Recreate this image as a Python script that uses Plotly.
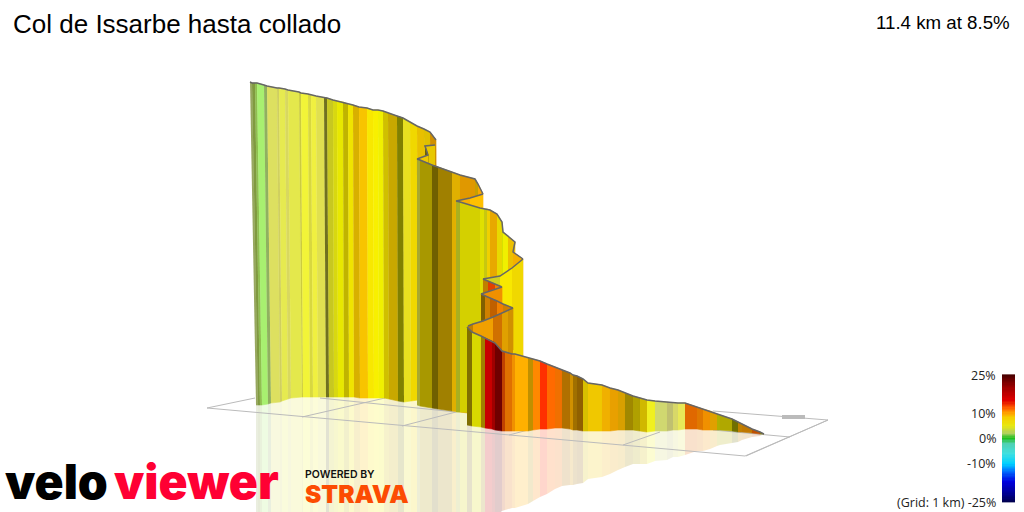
import plotly.graph_objects as go

TITLE = "Col de Issarbe hasta collado"
SUMMARY = "11.4 km at 8.5%"

# ---- wall ribbons: boundary positions, strip colours ----
a_xt = [250,252,255,257,264,267,277,279,285,288,299,301,308,311,316,324,327,333,337,343,348,353,359,367,373,378,383,388,397,403,410,417,424,430,436]
a_top = [82,83,83,83,85,86,88,88,89,90,92,93,94,95,96,97.5,98,100,101,102,104,105,107,108,110,110,111,113,116,118,122,126,129,132,140]
a_xb = [256,258,260,262,268,271,280,282,288,291,302,303,310,313,318,326,329,334,338,344,349,354,360,368,374,379,384,389,398,404,411,418,425,431,437]
a_base = [405,405,405,405,404,403,402,401,399,398,397,397,397,397,397,397,397,397,397,397,397,397,398,398,398,398,398,399,401,402,401,400,404,405,405]
a_col = ["#98a860","#809a40","#90c050","#a8f070","#90b060","#dde060","#d0d060","#e6ea50","#d8d860","#e4e84c","#cccc40","#f2f438","#d8d840","#f0f040","#e0e050","#707020","#c8c820","#d8d810","#e8e800","#c0b400","#f0e400","#d8b000","#f8c400","#f8e800","#f8f000","#f0f000","#d0c000","#c8a800","#808000","#e8e020","#f0d800","#e8c000","#e0c000","#d09000"]

a2_x = [435,425,428,417]
a2_top = [145,146,155,159]
a2_base = [175,175,175,175]
a2_col = ["#e8c800","#706000","#f0c800"]

b_x = [417,420,432,438,452,460,475,478,483]
b_top = [159,160,165,167,172,175,179,184,194]
b_base = [405,406,408,409,411,412,414,415,415]
b_col = ["#a8a830","#a89800","#706000","#a08000","#e0b000","#e09800","#c8a000","#f8a800"]

b2_x = [483,470,456]
b2_top = [194,198,201]
b2_base = [240,240,240]
b2_col = ["#ffc000","#f8b000"]

c_x = [456,460,480,484,487,490,497,502,503,508,515,513,523]
c_top = [201,202,208,209,209,210,214,222,232,236,242,252,259]
c_base = [412,412,413,414,414,414,415,415,415,415,415,415,415]
c_col = ["#a8b020","#d4d000","#e0e000","#c8c810","#f0d000","#e8a800","#e8d800","#d8e000","#f0f000","#ecc000","#f0c000","#f4b000"]

c2_x = [523,512,500,483]
c2_top = [259,268,276,279]
c2_base = [365,365,365,365]
c2_col = ["#f0d800","#f8e800","#d0d020"]

d1_x = [483,488,495,502]
d1_top = [279,281,284,287]
d1_base = [345,345,345,345]
d1_col = ["#c08000","#e04000","#f08000"]

d2_x = [502,481]
d2_top = [287,294]
d2_base = [345,345]
d2_col = ["#f09000"]

d3_x = [481,485,490,497,503,513]
d3_top = [294,296,298,301,304,308]
d3_base = [350,350,350,350,350,350]
d3_col = ["#806000","#d08000","#c06000","#f08000","#d08000"]

d4_x = [513,508,502,493,483,473,468]
d4_top = [308,310,313,317,321,324,326]
d4_base = [370,370,370,370,370,370,370]
d4_col = ["#d09000","#e0a000","#d07000","#f0a000","#f0a000","#c08000"]

e_x = [467,472,481,485,492,495,502,505,512,515,528,533,540,547,555,562,570,573,577,583,588,602,610,618,625,633,640,647,655,667,673,678,685,697,703,710,717,720,732,738,742,752,760,764]
e_top = [327,332,336,338,341,343,351,352,354,354,358,359,361,364,367,370,373,375,376,379,383,385,388,390,393,396,398,400,401,402,403,403,403,407,409,411,414,415,419,422,424,429,432,434]
e_base = [425,426,427,428,429,430,431,431,431,431,431,430,429,429,428,428,429,430,430,431,431,431,431,430,430,430,431,432,431,431,430,430,429,429,430,430,430,430,431,432,432,433,434,434]
e_col = ["#807000","#d8d800","#a08000","#c80000","#a00000","#700000","#c04000","#e07000","#f09000","#ffb000","#c09000","#ff8800","#ff3000","#ff6a00","#f07000","#b07000","#d09000","#a07000","#906000","#d8c000","#f0c800","#f0b000","#e8a000","#d8a000","#a08800","#b0a000","#d0b800","#f0f020","#d0d870","#c0c070","#d8d868","#e8e858","#e06800","#e07800","#f09000","#e0a000","#b0b000","#b0a800","#707000","#c08000","#c07800","#c05000","#908000"]

# ---- ground grid segments ----
grid_x = [[207,745,828,713],[207,255],[302,385],[402,456],[509,528],[623,660],[746,828],[320,456],[713,790]]
grid_y = [[408,456,420,411],[408,398],[417,398],[426,412],[435,430],[445,432],[456,420],[398,412],[430,437]]
marker_x = [782,805]
marker_y = [417,417]

# ---- colour legend ----
scale_vals = [v / 2 for v in range(-50, 51)]
scale_stops = [[0,"#000050"],[0.06,"#000090"],[0.16,"#0000e0"],[0.24,"#0070ff"],[0.30,"#00d0ff"],[0.38,"#40e0e0"],[0.46,"#50d0b0"],[0.50,"#20c020"],[0.54,"#b0d060"],[0.60,"#e8e810"],[0.66,"#f5d000"],[0.70,"#ffa000"],[0.74,"#ff6000"],[0.80,"#e00000"],[0.90,"#a00000"],[1,"#4a0000"]]
tick_vals = [25,10,0,-10,-25]
tick_text = ["25%","10%","0%","-10%","(Grid: 1 km) -25%"]

fig = go.Figure()

def strip(xs, ys, color, opacity=1.0):
    lw = 0.6 if opacity == 1.0 else 0
    fig.add_trace(go.Scatter(x=xs, y=ys, mode="lines", fill="toself", fillcolor=color, opacity=opacity,
                             line=dict(color=color, width=lw), hoverinfo="skip", showlegend=False))

def reflect(xb, top, base, col, limit):
    for i in range(len(col)):
        if xb[i] >= limit:
            continue
        x1 = min(xb[i+1], limit)
        strip([xb[i], x1, x1, xb[i]],
              [base[i], base[i+1], 2*base[i+1]-top[i+1], 2*base[i]-top[i]], col[i], 0.2)

# reflections first
reflect(a_xb, a_top, a_base, a_col, 417)
reflect(b_x, b_top, b_base, b_col, 456)
reflect(c_x, c_top, c_base, c_col, 467)
reflect(e_x, e_top, e_base, e_col, 999)

for gx, gy in zip(grid_x, grid_y):
    fig.add_trace(go.Scatter(x=gx, y=gy, mode="lines", line=dict(color="#bbbbbb", width=1), hoverinfo="skip", showlegend=False))
fig.add_trace(go.Scatter(x=marker_x, y=marker_y, mode="lines", line=dict(color="#bbbbbb", width=4), hoverinfo="skip", showlegend=False))

def ribbon(xt, top, base, col, xb=None):
    xb = xb or xt
    for i in range(len(col)):
        strip([xt[i], xt[i+1], xb[i+1], xb[i]], [top[i], top[i+1], base[i+1], base[i]], col[i])

layers = [
    (a_xt, a_top, a_base, a_col, a_xb),
    (a2_x, a2_top, a2_base, a2_col, None),
    (b_x, b_top, b_base, b_col, None),
    (b2_x, b2_top, b2_base, b2_col, None),
    (c_x, c_top, c_base, c_col, None),
    (c2_x, c2_top, c2_base, c2_col, None),
    (d1_x, d1_top, d1_base, d1_col, None),
    (d2_x, d2_top, d2_base, d2_col, None),
    (d3_x, d3_top, d3_base, d3_col, None),
    (d4_x, d4_top, d4_base, d4_col, None),
    (e_x, e_top, e_base, e_col, None),
]
for xt, top, base, col, xb in layers:
    ribbon(xt, top, base, col, xb)
    fig.add_trace(go.Scatter(x=xt, y=top, mode="lines", line=dict(color="#666666", width=1.5), hoverinfo="skip", showlegend=False))

# legend bar
fig.add_trace(go.Heatmap(z=[[v] for v in scale_vals], x=[1002, 1015],
                         y=[438.5 - 2.54 * (v - 0.25) for v in scale_vals] + [438.5 - 2.54 * (scale_vals[-1] + 0.25)],
                         zmin=-25, zmax=25, colorscale=scale_stops, showscale=False, hoverinfo="skip"))

ann = []
def text(x, y, s, size, color="#000000", family="Liberation Sans", anchor="left", weight=None):
    ann.append(dict(x=x, y=y, xref="x", yref="y", text=s, showarrow=False, xanchor=anchor, yanchor="middle",
                    font=dict(size=size, color=color, family=family, weight=weight), align=anchor))
text(11, 24, TITLE, 26)
text(1012, 22, SUMMARY, 18.7, anchor="right")
for v, t in zip(tick_vals, tick_text):
    text(998, 438.5 - 2.54 * v, t, 12.5, color="#222222", family="Open Sans", anchor="right")
text(3, 481, "velo", 48, family="Inter", weight=900)
text(112, 481, "viewer", 48, color="#ff0033", family="Inter", weight=900)
text(303, 474, "POWERED BY", 10.5, color="#111111", family="Inter", weight=600)
text(303, 494, "STRAVA", 24.5, color="#fc4c02", family="Inter", weight=900)

fig.update_layout(width=1024, height=512, margin=dict(l=0, r=0, t=0, b=0), paper_bgcolor="white", plot_bgcolor="white",
                  annotations=ann, showlegend=False,
                  xaxis=dict(range=[0,1024], visible=False, fixedrange=True),
                  yaxis=dict(range=[512,0], visible=False, fixedrange=True))
fig.write_html("out.html", config={"displayModeBar": False},
               post_script="document.body.style.margin='0';document.body.style.overflow='hidden';")
